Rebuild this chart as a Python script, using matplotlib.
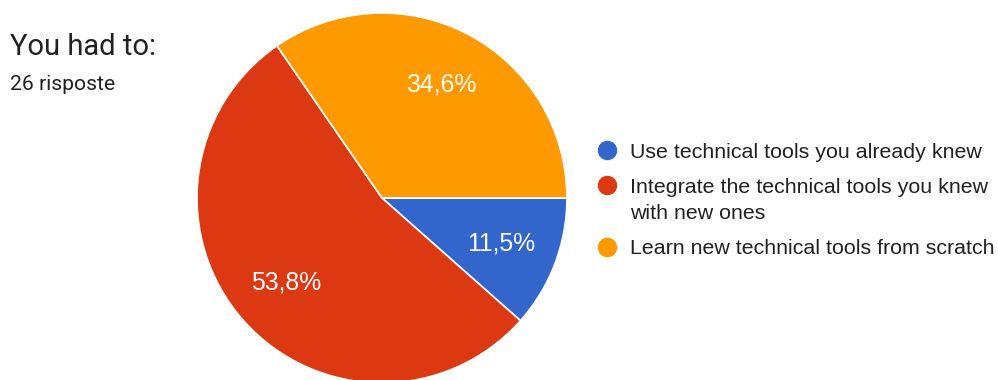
import matplotlib.pyplot as plt
from matplotlib.lines import Line2D

plt.rcParams['font.family'] = ['Roboto', 'DejaVu Sans']
ARIAL = ["Liberation Sans", "DejaVu Sans"]

categories = [
    "Use technical tools you already knew",
    "Integrate the technical tools you knew\nwith new ones",
    "Learn new technical tools from scratch",
]
counts = [3, 14, 9]
colors = ["#3366CC", "#DC3912", "#FF9900"]
title = "You had to:"
subtitle = "26 risposte"

W, H = 998, 380
fig = plt.figure(figsize=(W / 100, H / 100), dpi=100)
ax = fig.add_axes([0.1974, -0.0079, 0.3707, 0.9737])

wedges, texts, autotexts = ax.pie(
    counts, colors=colors, startangle=0, counterclock=False,
    autopct=lambda p: f"{p:.1f}%".replace(".", ","),
    pctdistance=0.69, radius=1,
    wedgeprops=dict(edgecolor="white", linewidth=1.2),
    textprops=dict(color="white", fontsize=17.8, family=ARIAL),
)
ax.set_xlim(-1, 1)
ax.set_ylim(-1, 1)
ax.set_aspect("equal")


def px(x, y):
    return x / W, 1 - y / H


fig.text(*px(10, 47), title, fontsize=21, color="#212121", va="center")
fig.text(*px(10, 84), subtitle, fontsize=15.2, color="#212121", va="center")

# legend drawn by hand to match the wrapped layout
y = 150
for label, c in zip(categories, colors):
    fig.add_artist(Line2D([px(607, y)[0]], [px(607, y)[1]], transform=fig.transFigure,
                          marker="o", markersize=13, linestyle="",
                          markerfacecolor=c, markeredgecolor=c))
    lines = label.split("\n")
    for k, line in enumerate(lines):
        fig.text(*px(630, y + 27 * k), line, fontsize=15.4, color="#212121",
                 va="center_baseline", family=ARIAL)
    y += 35 + 27 * (len(lines) - 1)

fig.savefig("out.png", dpi=100)
